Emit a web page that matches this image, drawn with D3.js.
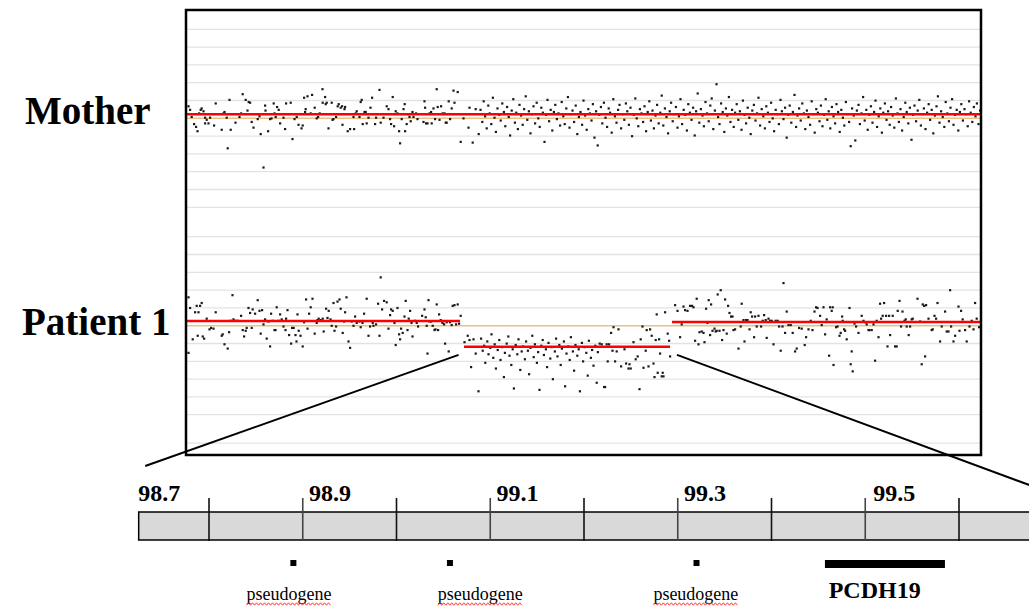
<!DOCTYPE html>
<html>
<head>
<meta charset="utf-8">
<script src="https://cdn.jsdelivr.net/npm/d3@7"></script>
<style>
  body { margin: 0; background: #fff; }
  svg { display: block; }
</style>
</head>
<body>
<svg id="canvas" width="1029" height="609"></svg>
<script>
// probe data: [position Mb, log2 ratio]
let motherProbes = [
[97.312,0.17],[97.32,0.12],[97.328,0.02],[97.34,-0.08],[97.35,-0.12],[97.357,-0.18],[97.365,0.07],[97.373,0.12],[97.378,0.14],[97.387,0.10],
[97.395,0.01],[97.395,-0.07],[97.403,-0.02],[97.412,-0.07],[97.42,0.01],[97.44,-0.10],[97.448,0.21],[97.478,-0.16],[97.487,0.07],[97.492,0.09],
[97.503,0.01],[97.508,-0.42],[97.517,0.26],[97.523,-0.16],[97.547,-0.06],[97.567,0.02],[97.575,0.07],[97.583,0.34],[97.598,0.26],[97.607,0.11],
[97.613,0.23],[97.62,0.22],[97.628,-0.05],[97.637,-0.13],[97.658,-0.01],[97.667,0.03],[97.673,-0.22],[97.687,-0.69],[97.695,0.18],[97.697,0.11],
[97.71,-0.18],[97.72,-0.01],[97.727,0.0],[97.738,0.21],[97.742,0.07],[97.748,0.02],[97.755,0.16],[97.763,0.12],[97.77,-0.07],[97.787,0.01],
[97.795,-0.15],[97.8,0.21],[97.823,0.22],[97.832,-0.29],[97.842,-0.01],[97.853,0.02],[97.862,-0.09],[97.877,-0.14],[97.883,-0.10],[97.89,0.29],
[97.895,0.09],[97.898,0.13],[97.907,0.31],[97.923,0.07],[97.93,0.33],[97.943,0.15],[97.953,0.0],[97.96,0.02],[97.968,0.07],[97.982,0.41],
[97.983,0.22],[97.995,0.30],[97.998,0.20],[98.003,0.22],[98.012,-0.14],[98.028,0.22],[98.032,-0.02],[98.037,-0.01],[98.05,0.02],[98.058,0.17],
[98.063,0.20],[98.073,0.15],[98.08,0.17],[98.082,-0.09],[98.092,0.13],[98.095,0.16],[98.108,-0.18],[98.12,-0.15],[98.137,0.02],[98.14,-0.15],
[98.148,0.07],[98.153,0.10],[98.167,0.02],[98.173,0.23],[98.178,0.26],[98.183,-0.08],[98.192,0.09],[98.198,0.09],[98.203,-0.07],[98.212,0.01],
[98.222,0.15],[98.23,0.29],[98.245,-0.08],[98.25,0.01],[98.267,0.40],[98.273,-0.06],[98.287,0.01],[98.303,0.17],[98.312,0.13],[98.32,-0.01],
[98.325,-0.08],[98.333,0.30],[98.34,-0.11],[98.348,0.10],[98.357,0.07],[98.365,-0.18],[98.37,-0.35],[98.378,-0.01],[98.387,0.13],[98.393,0.20],
[98.395,-0.18],[98.403,-0.08],[98.412,0.06],[98.417,0.02],[98.423,-0.04],[98.432,0.09],[98.437,0.02],[98.45,0.07],[98.457,-0.01],[98.487,-0.05],
[98.492,0.24],[98.495,0.15],[98.5,-0.07],[98.507,-0.07],[98.517,0.07],[98.525,0.09],[98.528,-0.07],[98.537,0.14],[98.545,-0.01],[98.553,0.41],
[98.558,0.16],[98.567,-0.02],[98.575,0.17],[98.583,0.07],[98.592,0.07],[98.598,-0.06],[98.603,-0.06],[98.613,0.24],[98.62,-0.01],[98.628,0.14],
[98.637,0.39],[98.642,0.22],[98.658,0.37],[98.673,-0.33],[98.687,0.0],[98.712,-0.13],[98.717,0.15],[98.733,-0.34],[98.748,0.13],[98.763,-0.22],
[98.772,0.12],[98.781,-0.05],[98.788,0.24],[98.795,0.03],[98.803,-0.14],[98.811,0.18],[98.818,0.07],[98.826,-0.08],[98.834,0.29],[98.842,0.01],
[98.849,-0.19],[98.857,0.14],[98.866,0.05],[98.873,-0.03],[98.881,0.21],[98.889,0.09],[98.896,-0.11],[98.905,0.16],[98.913,0.02],[98.92,-0.24],
[98.928,0.11],[98.936,0.27],[98.944,-0.06],[98.951,0.08],[98.959,-0.15],[98.967,0.19],[98.975,0.04],[98.983,-0.09],[98.99,0.13],[98.998,0.31],
[99.006,-0.02],[99.014,0.10],[99.022,-0.21],[99.029,0.06],[99.037,0.17],[99.045,-0.07],[99.053,0.22],[99.061,0.0],[99.068,-0.12],[99.076,0.15],
[99.084,0.08],[99.092,-0.33],[99.1,0.05],[99.107,0.26],[99.115,-0.04],[99.123,0.12],[99.131,-0.17],[99.139,0.09],[99.146,0.19],[99.154,-0.01],
[99.162,0.07],[99.17,-0.10],[99.178,0.23],[99.186,0.03],[99.193,-0.08],[99.201,0.14],[99.209,0.30],[99.217,-0.13],[99.225,0.06],[99.232,0.11],
[99.24,-0.05],[99.248,0.18],[99.256,-0.22],[99.264,0.02],[99.272,0.09],[99.28,-0.09],[99.287,0.25],[99.295,0.04],[99.303,-0.16],[99.311,0.13],
[99.319,0.07],[99.327,-0.03],[99.334,0.20],[99.342,-0.27],[99.35,0.1],[99.358,-0.38],[99.366,0.05],[99.374,0.16],[99.381,-0.07],[99.389,0.22],
[99.397,0.01],[99.405,-0.12],[99.413,0.14],[99.42,0.08],[99.428,-0.2],[99.436,0.27],[99.444,0.03],[99.452,-0.06],[99.46,0.12],[99.467,0.19],
[99.475,-0.14],[99.483,0.06],[99.491,-0.02],[99.499,0.21],[99.506,0.1],[99.514,-0.09],[99.522,0.15],[99.53,-0.25],[99.538,0.05],[99.546,0.28],
[99.553,0.0],[99.561,-0.11],[99.569,0.13],[99.577,0.07],[99.585,-0.05],[99.592,0.17],[99.6,-0.18],[99.608,0.09],[99.616,0.24],[99.624,-0.03],
[99.632,0.11],[99.639,-0.14],[99.647,0.04],[99.655,0.19],[99.663,-0.07],[99.671,0.08],[99.678,0.32],[99.686,-0.1],[99.694,0.14],[99.702,0.02],
[99.71,-0.21],[99.718,0.1],[99.725,0.22],[99.733,-0.04],[99.741,0.06],[99.749,0.16],[99.757,-0.13],[99.764,0.03],[99.772,0.27],[99.78,-0.08],
[99.788,0.12],[99.796,0.05],[99.804,-0.17],[99.811,0.2],[99.819,0.08],[99.827,-0.02],[99.835,0.15],[99.843,-0.24],[99.85,0.1],[99.858,0.35],
[99.866,-0.06],[99.874,0.13],[99.882,0.04],[99.889,-0.11],[99.897,0.23],[99.905,0.07],[99.913,-0.04],[99.921,0.18],[99.928,0.28],[99.936,-0.15],
[99.944,0.11],[99.952,0.48],[99.96,0.02],[99.967,-0.08],[99.975,0.21],[99.983,0.09],[99.991,-0.19],[99.999,0.14],[100.006,0.04],[100.014,0.3],
[100.022,-0.05],[100.03,0.12],[100.038,-0.12],[100.045,0.08],[100.053,0.2],[100.061,-0.02],[100.069,0.1],[100.077,-0.16],[100.084,0.25],[100.092,0.05],
[100.1,-0.07],[100.108,0.15],[100.116,0.01],[100.123,-0.22],[100.131,0.11],[100.139,0.19],[100.147,-0.03],[100.155,0.07],[100.162,0.29],[100.17,-0.1],
[100.178,0.13],[100.186,0.03],[100.194,-0.14],[100.201,0.17],[100.209,0.08],[100.217,-0.05],[100.225,0.22],[100.233,0.0],[100.24,-0.18],[100.248,0.12],
[100.256,0.06],[100.264,-0.08],[100.272,0.26],[100.279,0.1],[100.287,-0.01],[100.295,0.15],[100.303,-0.27],[100.311,0.05],[100.318,0.18],[100.326,-0.06],
[100.334,0.09],[100.342,0.33],[100.35,-0.12],[100.357,0.04],[100.365,0.14],[100.373,-0.03],[100.381,0.21],[100.389,0.07],[100.396,-0.15],[100.404,0.11],
[100.412,0.02],[100.42,-0.09],[100.428,0.24],[100.435,0.06],[100.443,-0.2],[100.451,0.13],[100.459,0.08],[100.467,-0.04],[100.474,0.18],[100.482,-0.11],
[100.49,0.05],[100.498,0.27],[100.506,-0.02],[100.513,0.1],[100.521,-0.14],[100.529,0.16],[100.537,0.03],[100.545,-0.07],[100.552,0.2],[100.56,0.09],
[100.568,-0.19],[100.576,0.12],[100.584,0.01],[100.591,-0.1],[100.599,0.23],[100.607,0.06],[100.615,-0.05],[100.623,-0.39],[100.63,0.14],[100.638,0.04],
[100.646,-0.31],[100.654,0.11],[100.662,0.19],[100.669,-0.08],[100.677,0.07],[100.685,0.3],[100.693,-0.03],[100.701,0.12],[100.708,-0.16],[100.716,0.05],
[100.724,0.17],[100.732,-0.06],[100.74,0.09],[100.747,0.25],[100.755,-0.12],[100.763,0.03],[100.771,0.14],[100.779,-0.2],[100.786,0.08],[100.794,0.21],
[100.802,-0.02],[100.81,0.1],[100.818,-0.09],[100.825,0.16],[100.833,0.04],[100.841,-0.13],[100.849,0.28],[100.857,0.07],[100.864,-0.05],[100.872,0.13],
[100.88,-0.17],[100.888,0.02],[100.896,0.22],[100.903,0.09],[100.911,-0.07],[100.919,0.15],[100.927,-0.3],[100.935,0.05],[100.942,0.18],[100.95,-0.04],
[100.958,0.11],[100.966,0.26],[100.974,-0.1],[100.981,0.06],[100.989,0.14],[100.997,-0.15],[101.005,0.08],[101.013,0.2],[101.02,-0.02],[101.028,0.12],
[101.036,-0.21],[101.044,0.04],[101.052,0.17],[101.059,0.31],[101.067,-0.06],[101.075,0.1],[101.083,0.02],[101.091,-0.12],[101.098,0.23],[101.106,0.07],
[101.114,-0.04],[101.122,0.15],[101.13,0.27],[101.137,-0.09],[101.145,0.05],[101.153,0.12],[101.161,-0.17],[101.169,0.09],[101.176,0.2],[101.184,-0.03],
[101.192,0.13],[101.2,0.06],[101.208,-0.11],[101.215,0.24],[101.223,0.08],[101.231,-0.05],[101.239,0.16],[101.247,0.03],[101.254,0.21],[101.262,-0.08],
[101.27,0.11]
]

let patientProbes = [
[97.312,0.40],[97.312,-0.38],[97.32,0.25],[97.333,-0.19],[97.345,0.19],[97.353,0.28],[97.358,-0.14],[97.362,0.19],[97.37,0.28],[97.378,0.32],
[97.383,-0.15],[97.39,-0.18],[97.403,0.10],[97.417,-0.05],[97.425,-0.03],[97.437,-0.04],[97.448,0.19],[97.478,-0.14],[97.483,-0.12],[97.492,-0.26],
[97.508,-0.32],[97.515,-0.09],[97.523,0.07],[97.532,0.43],[97.537,0.09],[97.548,0.07],[97.558,0.07],[97.575,0.14],[97.583,-0.06],[97.59,-0.15],
[97.598,-0.07],[97.603,-0.03],[97.612,0.25],[97.62,0.18],[97.628,-0.03],[97.633,0.23],[97.645,0.17],[97.658,0.36],[97.667,0.21],[97.673,-0.11],
[97.68,0.22],[97.687,0.02],[97.695,0.09],[97.703,-0.18],[97.712,0.06],[97.72,-0.29],[97.725,0.17],[97.733,0.07],[97.742,-0.06],[97.747,-0.06],
[97.753,0.26],[97.762,0.07],[97.77,0.16],[97.778,0.09],[97.787,-0.01],[97.797,-0.06],[97.8,0.10],[97.807,0.22],[97.815,-0.13],[97.825,-0.25],
[97.83,-0.03],[97.838,-0.03],[97.847,-0.13],[97.852,-0.22],[97.857,0.16],[97.863,-0.07],[97.872,-0.14],[97.883,-0.29],[97.89,0.05],[97.9,0.37],
[97.907,-0.04],[97.915,0.17],[97.923,0.26],[97.932,0.38],[97.943,-0.11],[97.953,0.04],[97.957,0.08],[97.963,0.10],[97.973,0.08],[97.983,0.10],
[97.988,-0.08],[98.0,0.24],[98.007,0.11],[98.013,0.21],[98.022,0.09],[98.028,0.0],[98.037,0.32],[98.042,-0.07],[98.05,-0.01],[98.057,0.34],
[98.067,0.37],[98.073,0.24],[98.083,-0.10],[98.09,0.06],[98.095,0.19],[98.102,0.40],[98.112,-0.22],[98.12,-0.31],[98.128,0.06],[98.137,0.0],
[98.145,0.13],[98.153,0.04],[98.167,0.06],[98.173,-0.02],[98.182,0.04],[98.19,0.17],[98.203,0.38],[98.212,-0.14],[98.22,-0.01],[98.233,0.04],
[98.237,0.0],[98.25,0.02],[98.26,0.31],[98.267,-0.14],[98.273,0.68],[98.28,0.23],[98.29,0.35],[98.303,0.33],[98.312,-0.04],[98.32,0.15],
[98.325,0.23],[98.333,0.21],[98.342,0.04],[98.348,-0.27],[98.357,0.25],[98.365,-0.12],[98.37,-0.19],[98.375,-0.04],[98.383,-0.10],[98.392,0.13],
[98.398,0.35],[98.407,-0.06],[98.413,0.10],[98.42,0.21],[98.427,0.04],[98.432,-0.15],[98.445,0.07],[98.453,0.04],[98.46,-0.01],[98.48,0.14],
[98.492,0.23],[98.498,0.12],[98.503,0.0],[98.507,-0.39],[98.512,0.36],[98.517,0.06],[98.525,0.06],[98.533,0.0],[98.542,-0.06],[98.547,-0.05],
[98.553,0.30],[98.56,-0.06],[98.565,0.16],[98.573,0.08],[98.582,0.04],[98.59,0.02],[98.595,-0.25],[98.603,0.05],[98.613,-0.36],[98.62,0.05],
[98.628,0.01],[98.633,0.28],[98.642,0.29],[98.65,0.02],[98.658,0.30],[98.665,0.03],[98.673,0.14],
// deleted interval
[98.692,-0.23],[98.708,-0.14],[98.717,-0.20],[98.725,-0.58],[98.737,-0.19],[98.748,-0.39],[98.762,-0.92],
[98.775,-0.18],[98.783,-0.35],[98.79,-0.28],[98.796,-0.52],[98.806,-0.22],[98.812,-0.40],[98.821,-0.31],[98.827,-0.12],[98.836,-0.45],[98.843,-0.26],
[98.849,-0.60],[98.858,-0.34],[98.866,-0.20],[98.872,-0.48],[98.881,-0.30],[98.889,-0.72],[98.894,-0.38],[98.903,-0.25],[98.911,-0.15],[98.917,-0.42],
[98.926,-0.55],[98.933,-0.33],[98.939,-0.88],[98.948,-0.27],[98.956,-0.40],[98.962,-0.19],[98.971,-0.62],[98.978,-0.36],[98.984,-0.29],[98.994,-0.47],
[99.0,-0.22],[99.009,-0.35],[99.015,-0.68],[99.022,-0.31],[99.031,-0.14],[99.038,-0.44],[99.044,-0.26],[99.054,-0.52],[99.06,-0.37],[99.067,-0.90],
[99.076,-0.28],[99.083,-0.20],[99.089,-0.41],[99.099,-0.33],[99.105,-0.58],[99.112,-0.24],[99.121,-0.46],[99.128,-0.30],[99.134,-0.75],[99.144,-0.36],
[99.15,-0.18],[99.157,-0.43],[99.166,-0.27],[99.173,-0.55],[99.179,-0.32],[99.189,-0.22],[99.195,-0.85],[99.202,-0.39],[99.211,-0.29],[99.218,-0.48],
[99.224,-0.16],[99.234,-0.36],[99.24,-0.63],[99.247,-0.27],[99.256,-0.42],[99.263,-0.33],[99.269,-0.92],[99.279,-0.24],[99.285,-0.50],[99.292,-0.30],
[99.301,-0.38],[99.308,-0.70],[99.314,-0.21],[99.324,-0.45],[99.33,-0.34],[99.337,-0.56],[99.346,-0.28],[99.353,-0.80],[99.359,-0.37],[99.368,-0.25],
[99.378,-0.26],[99.39,-0.86],[99.395,-0.86],[99.403,-0.26],[99.408,-0.50],[99.415,-0.26],[99.425,-0.10],[99.432,-0.35],[99.437,-0.02],[99.445,-0.50],
[99.453,-0.36],[99.462,-0.05],[99.475,-0.57],[99.492,-0.33],[99.5,-0.53],[99.512,-0.60],[99.517,-0.54],[99.523,-0.60],[99.537,-0.23],[99.548,-0.47],
[99.558,-0.43],[99.567,-0.89],[99.573,-0.19],[99.582,-0.01],[99.587,-0.59],[99.598,-0.35],[99.603,-0.06],[99.612,-0.57],[99.62,-0.05],[99.628,-0.14],
[99.637,-0.53],[99.642,-0.72],[99.648,-0.20],[99.653,0.16],[99.658,-0.66],[99.665,-0.19],[99.67,-0.39],[99.678,-0.71],[99.683,-0.66],[99.687,-0.71],
[99.695,0.19],[99.708,-0.11],[99.715,-0.21],[99.72,-0.43],
// distal normal copy number
[99.745,0.29],[99.757,0.21],[99.77,-0.16],[99.778,0.02],[99.787,0.27],[99.795,0.22],[99.807,0.21],[99.82,0.28],[99.83,0.28],[99.837,0.26],
[99.845,-0.21],[99.853,0.38],[99.862,-0.26],[99.867,-0.09],[99.878,-0.08],[99.887,-0.10],[99.892,-0.23],[99.9,0.24],[99.907,0.04],[99.913,0.36],
[99.92,-0.13],[99.925,0.30],[99.932,-0.07],[99.942,-0.04],[99.948,-0.08],[99.953,-0.07],[99.958,0.44],[99.967,-0.07],[99.973,0.50],[99.98,-0.20],
[99.987,-0.06],[99.995,0.37],[100.003,-0.11],[100.01,0.28],[100.017,0.18],[100.025,0.13],[100.032,0.13],[100.037,-0.06],[100.045,-0.05],[100.062,-0.32],
[100.073,-0.01],[100.078,0.31],[100.087,0.08],[100.092,-0.22],[100.1,0.08],[100.107,0.08],[100.117,-0.05],[100.123,0.19],[100.13,0.13],[100.14,-0.16],
[100.145,0.13],[100.153,-0.01],[100.162,0.14],[100.175,-0.01],[100.183,0.07],[100.19,0.15],[100.198,0.08],[100.203,-0.17],[100.212,0.10],[100.22,0.07],
[100.228,0.07],[100.237,-0.26],[100.248,0.07],[100.258,0.07],[100.265,-0.01],[100.273,-0.35],[100.282,-0.01],[100.287,0.60],[100.295,-0.10],[100.303,0.20],
[100.312,0.01],[100.323,0.01],[100.333,-0.10],[100.345,-0.36],[100.353,-0.32],[100.365,-0.03],[100.378,-0.04],[100.393,-0.27],[100.4,-0.16],[100.412,-0.05],
[100.423,0.07],[100.432,-0.06],[100.442,0.20],[100.45,0.26],[100.457,0.25],[100.47,0.14],[100.478,0.01],[100.487,0.26],[100.495,-0.12],[100.503,0.09],
[100.515,-0.42],[100.52,0.26],[100.528,0.21],[100.533,0.26],[100.537,-0.55],[100.55,-0.02],[100.557,-0.01],[100.567,-0.14],[100.573,-0.10],[100.58,0.13],
[100.583,0.07],[100.59,-0.05],[100.595,-0.07],[100.603,-0.19],[100.617,0.25],[100.623,-0.54],[100.628,-0.36],[100.633,-0.64],[100.642,0.03],[100.65,-0.01],
[100.662,-0.10],[100.678,0.14],[100.687,0.07],[100.697,0.05],[100.703,0.02],[100.712,-0.06],[100.717,-0.06],[100.728,-0.06],[100.737,0.02],[100.745,-0.49],
[100.753,0.07],[100.762,-0.16],[100.77,0.31],[100.775,0.10],[100.783,0.14],[100.79,0.32],[100.8,0.14],[100.807,-0.29],[100.815,0.14],[100.82,-0.13],
[100.833,0.14],[100.845,-0.29],[100.853,-0.29],[100.858,0.21],[100.867,0.35],[100.875,-0.01],[100.882,0.20],[100.892,0.07],[100.898,0.09],[100.903,-0.01],
[100.913,-0.13],[100.92,-0.01],[100.928,0.09],[100.933,0.10],[100.957,0.38],[100.97,0.06],[100.978,-0.54],[100.983,0.30],[100.99,0.28],[100.995,-0.43],
[101.0,0.29],[101.012,0.10],[101.028,-0.06],[101.033,-0.05],[101.042,0.14],[101.05,0.10],[101.057,0.32],[101.07,-0.22],[101.078,-0.01],[101.095,0.20],
[101.103,-0.08],[101.112,-0.08],[101.12,0.50],[101.125,-0.01],[101.137,-0.22],[101.145,-0.14],[101.162,0.27],[101.167,-0.07],[101.175,0.21],[101.183,0.09],
[101.195,-0.06],[101.203,-0.22],[101.217,-0.01],[101.228,0.07],[101.237,-0.05],[101.245,0.32],[101.253,0.10],[101.265,-0.02]
]

// segmented means (red lines)
let motherSegments = [[97.305, 101.27, 0.056]]
let patientSegments = [[97.305, 98.67, 0.066], [98.69, 99.72, -0.295], [99.73, 101.27, 0.052]]

let gridValues = [-1.25, -1, -0.75, -0.5, -0.25, 0, 0.25, 0.5, 0.75, 1, 1.25]
let patientFloor = [-1.65]

// chromosome band (Mb)
let bandTicks = [98.75, 98.85, 98.95, 99.05, 99.15, 99.25, 99.35, 99.45, 99.55]
let bandLabels = ['98.7', '98.9', '99.1', '99.3', '99.5']
let bandLabelPos = [98.697, 98.879, 99.079, 99.279, 99.481]
let pseudogenes = [98.84, 99.007, 99.27]
let pseudogeneLabelPos = [98.79, 98.994, 99.224]
let genes = [{name: 'PCDH19', start: 99.407, end: 99.535, labelPos: 99.411}]

// zoom connectors: deletion edge in the plot -> position on the band
let connectors = [[98.663, -0.41, 98.682, 466], [99.755, -0.41, 99.70, 511]]

let canvas = d3.select('#canvas')

let x = d3.scaleLinear().domain([97.3, 101.275]).range([186, 981])
let yMother = d3.scaleLinear().domain([-1.25, 1.25]).range([207.3, 29.3])
let yPatient = d3.scaleLinear().domain([-1.25, 1.25]).range([414.7, 236.7])
let xBand = d3.scaleLinear().domain([98.75, 99.55]).range([209, 959])

let drawPanel = (probes, segments, y, extraLines) => {
    let g = canvas.append('g')
    g.selectAll('line.grid')
        .data(gridValues.concat(extraLines))
        .enter()
        .append('line')
        .attr('class', 'grid')
        .attr('x1', x.range()[0])
        .attr('x2', x.range()[1])
        .attr('y1', d => y(d))
        .attr('y2', d => y(d))
        .attr('stroke', d => d === 0 ? '#f2bd85' : '#e3e3e3')
        .attr('stroke-width', d => d === 0 ? 1.6 : 1.3)

    g.selectAll('rect.probe')
        .data(probes)
        .enter()
        .append('rect')
        .attr('class', 'probe')
        .attr('x', d => x(d[0]) - 1)
        .attr('y', d => y(d[1]) - 1)
        .attr('width', 2.2)
        .attr('height', 2.2)
        .attr('fill', '#1a1a1a')

    g.selectAll('line.seg')
        .data(segments)
        .enter()
        .append('line')
        .attr('class', 'seg')
        .attr('x1', d => x(d[0]))
        .attr('x2', d => x(d[1]))
        .attr('y1', d => y(d[2]))
        .attr('y2', d => y(d[2]))
        .attr('stroke', '#ff0000')
        .attr('stroke-width', 2.4)
}

drawPanel(motherProbes, motherSegments, yMother, [])
drawPanel(patientProbes, patientSegments, yPatient, patientFloor)

// frame
canvas.append('rect')
    .attr('x', 186).attr('y', 10)
    .attr('width', 795).attr('height', 445)
    .attr('fill', 'none')
    .attr('stroke', '#000')
    .attr('stroke-width', 2.5)

// sample names
canvas.selectAll('text.sample')
    .data([['Mother', 25, 124], ['Patient 1', 22, 335]])
    .enter()
    .append('text')
    .attr('class', 'sample')
    .attr('x', d => d[1])
    .attr('y', d => d[2])
    .attr('font-family', '"Liberation Serif", "Times New Roman", serif')
    .attr('font-weight', 'bold')
    .attr('font-size', 39)
    .text(d => d[0])

// connectors
canvas.selectAll('line.conn')
    .data(connectors)
    .enter()
    .append('line')
    .attr('x1', d => x(d[0]))
    .attr('y1', d => yPatient(d[1]))
    .attr('x2', d => xBand(d[2]))
    .attr('y2', d => d[3])
    .attr('stroke', '#000')
    .attr('stroke-width', 2)

// chromosome band
let band = canvas.append('g')
band.append('rect')
    .attr('x', xBand(98.675))
    .attr('y', 512)
    .attr('width', xBand(99.8) - xBand(98.675))
    .attr('height', 28)
    .attr('fill', '#d9d9d9')
    .attr('stroke', '#000')
    .attr('stroke-width', 1.5)

band.selectAll('line.tick')
    .data(bandTicks)
    .enter()
    .append('line')
    .attr('x1', d => xBand(d))
    .attr('x2', d => xBand(d))
    .attr('y1', 498)
    .attr('y2', 541)
    .attr('stroke', (d, i) => i % 2 ? '#444' : '#111')
    .attr('stroke-width', 1.6)

band.selectAll('text.lab')
    .data(bandLabels)
    .enter()
    .append('text')
    .attr('x', (d, i) => xBand(bandLabelPos[i]))
    .attr('y', 501)
    .attr('text-anchor', 'middle')
    .attr('font-family', '"Liberation Serif", "Times New Roman", serif')
    .attr('font-weight', 'bold')
    .attr('font-size', 24)
    .text(d => d)

band.selectAll('rect.pseudo')
    .data(pseudogenes)
    .enter()
    .append('rect')
    .attr('x', d => xBand(d) - 3)
    .attr('y', 560)
    .attr('width', 6)
    .attr('height', 6)
    .attr('fill', '#000')

let plabels = band.selectAll('text.pl')
    .data(pseudogeneLabelPos)
    .enter()
    .append('text')
    .attr('x', d => xBand(d))
    .attr('y', 600)
    .attr('font-family', '"Liberation Serif", "Times New Roman", serif')
    .attr('font-size', 18)
    .text('pseudogene')

// spell-check squiggle under each pseudogene label
plabels.each(function () {
    let b = this.getBBox()
    let pts = []
    for (let px = b.x, k = 0; px <= b.x + b.width; px += 2, k++) {
        pts.push([px, 604 + (k % 2 ? -1.2 : 1.2)])
    }
    band.append('path')
        .attr('d', d3.line()(pts))
        .attr('fill', 'none')
        .attr('stroke', '#ff2020')
        .attr('stroke-width', 0.9)
})

band.selectAll('line.gene')
    .data(genes)
    .enter()
    .append('line')
    .attr('x1', d => xBand(d.start))
    .attr('x2', d => xBand(d.end))
    .attr('y1', 564)
    .attr('y2', 564)
    .attr('stroke', '#000')
    .attr('stroke-width', 8)

band.selectAll('text.gene')
    .data(genes)
    .enter()
    .append('text')
    .attr('x', d => xBand(d.labelPos))
    .attr('y', 598)
    .attr('font-family', '"Liberation Serif", "Times New Roman", serif')
    .attr('font-weight', 'bold')
    .attr('font-size', 24)
    .text(d => d.name)
</script>
</body>
</html>
